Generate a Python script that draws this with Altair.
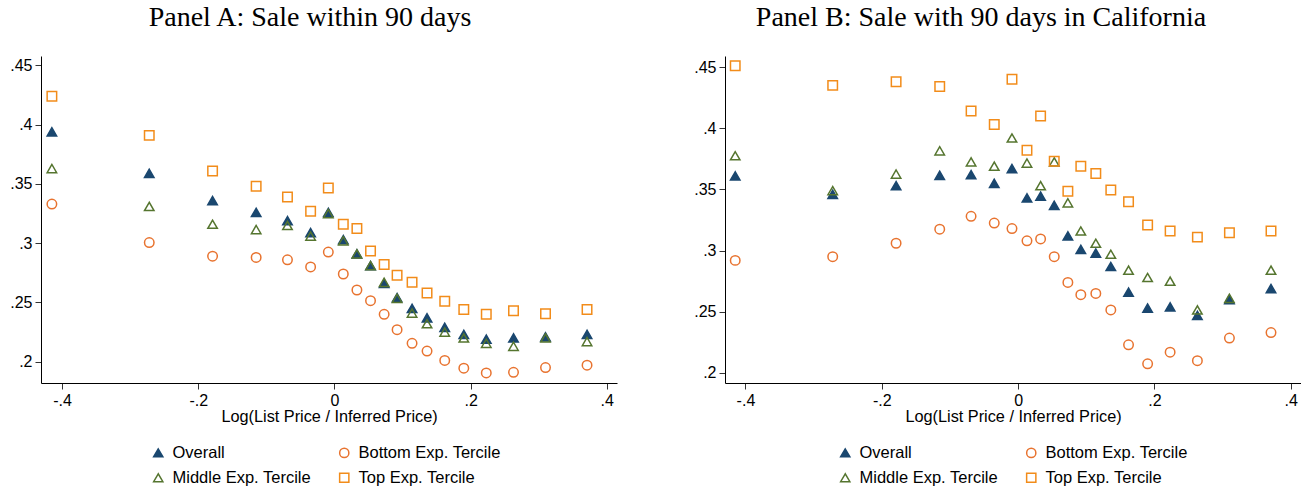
import altair as alt
import pandas as pd

# Bin positions: Log(List Price / Inferred Price)
x_vals = [-0.415, -0.272, -0.179, -0.115, -0.069, -0.035, -0.009, 0.013, 0.033, 0.053,
          0.073, 0.092, 0.114, 0.136, 0.162, 0.190, 0.223, 0.263, 0.310, 0.371]

# Panel A: Sale within 90 days
a_overall = [0.394, 0.359, 0.336, 0.326, 0.319, 0.309, 0.326, 0.303, 0.291, 0.281,
             0.266, 0.254, 0.245, 0.237, 0.229, 0.223, 0.219, 0.220, 0.221, 0.223]
a_middle = [0.363, 0.331, 0.316, 0.3115, 0.315, 0.306, 0.325, 0.302, 0.291, 0.281,
            0.267, 0.2535, 0.241, 0.232, 0.225, 0.220, 0.2155, 0.213, 0.220, 0.217]
a_bottom = [0.333, 0.3005, 0.289, 0.288, 0.286, 0.280, 0.2925, 0.274, 0.2605, 0.2515,
            0.240, 0.227, 0.2155, 0.209, 0.201, 0.1945, 0.1905, 0.191, 0.195, 0.197]
a_top = [0.424, 0.391, 0.361, 0.348, 0.339, 0.327, 0.3465, 0.316, 0.3125, 0.2935,
         0.282, 0.273, 0.267, 0.258, 0.251, 0.244, 0.240, 0.243, 0.2405, 0.244]

# Panel B: Sale with 90 days in California
b_overall = [0.361, 0.346, 0.353, 0.3615, 0.362, 0.355, 0.367, 0.343, 0.3445, 0.337,
             0.312, 0.301, 0.298, 0.287, 0.266, 0.253, 0.254, 0.247, 0.260, 0.269]
b_middle = [0.3775, 0.349, 0.3625, 0.3815, 0.3725, 0.369, 0.392, 0.3715, 0.353, 0.3725,
            0.339, 0.316, 0.306, 0.297, 0.284, 0.278, 0.275, 0.2515, 0.261, 0.284]
b_bottom = [0.292, 0.295, 0.306, 0.3175, 0.328, 0.3225, 0.318, 0.308, 0.3095, 0.295,
            0.274, 0.264, 0.265, 0.2515, 0.223, 0.2075, 0.217, 0.210, 0.2285, 0.233]
b_top = [0.451, 0.435, 0.438, 0.434, 0.414, 0.403, 0.440, 0.382, 0.410, 0.373,
         0.3485, 0.369, 0.363, 0.3495, 0.340, 0.321, 0.316, 0.311, 0.3145, 0.316]

# legend order (column-major in a 2-column legend)
series_names = ["Overall", "Middle Exp. Tercile", "Bottom Exp. Tercile", "Top Exp. Tercile"]
series_shapes = ["triangle-up", "triangle-up", "circle", "square"]
series_stroke = ["#1a476f", "#55752f", "#e8732f", "#f28c1a"]
series_fill = ["#1a476f", "transparent", "transparent", "transparent"]

x_ticks = [-0.4, -0.2, 0, 0.2, 0.4]
y_ticks = [0.2, 0.25, 0.3, 0.35, 0.4, 0.45]

x_title = "Log(List Price / Inferred Price)"


def make_df(overall, middle, bottom, top):
    rows = []
    # drawing order: Overall, Bottom, Middle, Top
    for k, (name, vals) in enumerate([("Overall", overall), ("Bottom Exp. Tercile", bottom),
                                      ("Middle Exp. Tercile", middle), ("Top Exp. Tercile", top)]):
        for xv, yv in zip(x_vals, vals):
            rows.append({"series": name, "x": xv, "y": yv, "ord": k})
    return pd.DataFrame(rows)


label_expr = "replace(datum.value + '', '0.', '.')"


def panel(df, title, xdom, ydom, title_dx, legend_x):
    leg = alt.Legend(
        title=None, orient="none", legendX=legend_x, legendY=388.5, columns=2,
        columnPadding=25, rowPadding=8, labelFont="Liberation Sans", labelFontSize=16.5,
        labelColor="black", symbolSize=85, symbolStrokeWidth=1.5, labelOffset=6,
        padding=0, labelLimit=300,
    )
    return alt.Chart(df, title=alt.Title(
        title, font="Liberation Serif", fontSize=28, fontWeight="normal", color="black",
        anchor="middle", offset=24, dx=title_dx,
    )).mark_point(opacity=1, strokeWidth=1.5, size=90).encode(
        x=alt.X("x:Q", title=x_title,
                scale=alt.Scale(domain=xdom, nice=False, zero=False),
                axis=alt.Axis(values=x_ticks, labelExpr=label_expr, grid=False)),
        y=alt.Y("y:Q", title=None,
                scale=alt.Scale(domain=ydom, nice=False, zero=False),
                axis=alt.Axis(values=y_ticks, labelExpr=label_expr, grid=False)),
        shape=alt.Shape("series:N", scale=alt.Scale(domain=series_names, range=series_shapes), legend=leg),
        stroke=alt.Stroke("series:N", scale=alt.Scale(domain=series_names, range=series_stroke), legend=leg),
        fill=alt.Fill("series:N", scale=alt.Scale(domain=series_names, range=series_fill), legend=leg),
        order=alt.Order("ord:Q"),
    ).properties(width=576, height=327)


df_a = make_df(a_overall, a_middle, a_bottom, a_top)
df_b = make_df(b_overall, b_middle, b_bottom, b_top)

chart_a = panel(df_a, "Panel A: Sale within 90 days", [-0.431, 0.415], [0.182, 0.458], -19, 109)
chart_b = panel(df_b, "Panel B: Sale with 90 days in California", [-0.43, 0.415], [0.1918, 0.459], -32, 112)

chart = alt.hconcat(chart_a, chart_b, spacing=76).resolve_scale(
    shape="independent", stroke="independent", fill="independent", x="independent", y="independent"
).resolve_legend(shape="independent", stroke="independent", fill="independent").configure(
    padding={"left": 9, "top": 4, "right": 0, "bottom": 0},
    background="white",
).configure_view(strokeWidth=0).configure_axis(
    domainColor="black", domainWidth=1, tickColor="#333333", tickWidth=1, tickSize=6,
    labelFont="Liberation Sans", labelFontSize=16, labelColor="black", labelPadding=3,
    titleFont="Liberation Sans", titleFontSize=16.3, titleFontWeight="normal", titleColor="black",
    titlePadding=0,
).configure_axisY(labelAngle=0)

chart.save("out.html", embed_options={"renderer": "svg", "actions": False})
